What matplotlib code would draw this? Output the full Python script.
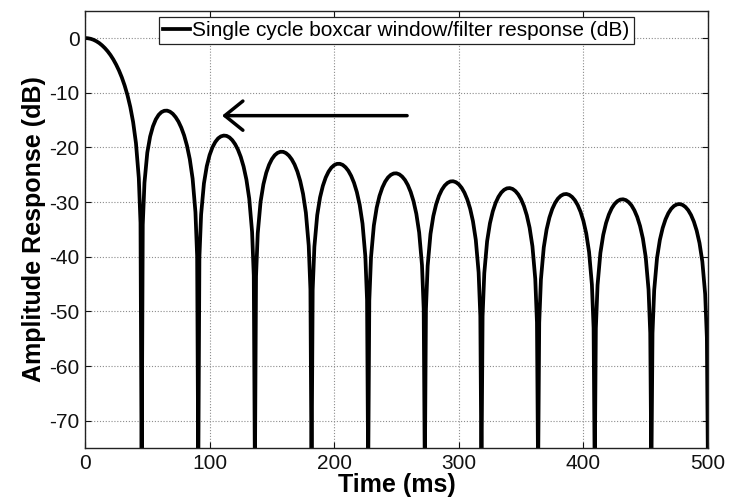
import matplotlib
matplotlib.use("Agg")
import matplotlib.pyplot as plt

# ---------------- data ----------------
null_times_ms = [0.0, 45.45, 90.91, 136.36, 181.82, 227.27, 272.73,
                 318.18, 363.64, 409.09, 454.55, 500.0]

main_lobe_frac = [0.0, 0.05, 0.1, 0.15, 0.2, 0.25, 0.3, 0.35, 0.4, 0.45, 0.5,
                  0.55, 0.6, 0.65, 0.7, 0.75, 0.8, 0.85, 0.9, 0.95, 0.98]
main_lobe_db = [0.0, -0.04, -0.14, -0.32, -0.58, -0.91, -1.33, -1.83, -2.42, -3.11, -3.92,
                -4.86, -5.94, -7.20, -8.69, -10.45, -12.62, -15.39, -19.23, -25.6, -33.81]

side_lobe_frac = [0.02, 0.05, 0.1, 0.15, 0.2, 0.25, 0.3, 0.35, 0.4, 0.45, 0.5,
                  0.55, 0.6, 0.65, 0.7, 0.75, 0.8, 0.85, 0.9, 0.95, 0.98]
lobe1_db = [-34.15, -26.48, -20.97, -18.02, -16.15, -14.89, -14.06, -13.55, -13.31, -13.28, -13.47,
            -13.86, -14.47, -15.29, -16.39, -17.81, -19.67, -22.15, -25.72, -31.85, -39.92]
lobe2_db = [-40.09, -32.29, -26.59, -23.45, -21.41, -20.00, -19.02, -18.36, -17.99, -17.84, -17.90,
            -18.18, -18.68, -19.41, -20.41, -21.74, -23.51, -25.90, -29.39, -35.45, -43.47]
lobe3_db = [-43.58, -35.74, -29.97, -26.77, -24.66, -23.19, -22.15, -21.44, -21.01, -20.81, -20.82,
            -21.06, -21.51, -22.19, -23.14, -24.43, -26.16, -28.51, -31.96, -37.98, -45.98]
lobe4_db = [-46.07, -38.20, -32.40, -29.16, -27.03, -25.52, -24.45, -23.71, -23.25, -23.02, -23.01,
            -23.21, -23.64, -24.29, -25.23, -26.49, -28.19, -30.52, -33.95, -39.95, -47.93]
lobe5_db = [-48.00, -40.12, -34.30, -31.04, -28.88, -27.36, -26.27, -25.51, -25.03, -24.78, -24.75,
            -24.94, -25.35, -25.98, -26.90, -28.15, -29.83, -32.15, -35.56, -41.54, -49.52]
lobe6_db = [-49.58, -41.69, -35.85, -32.58, -30.41, -28.87, -27.77, -27.00, -26.51, -26.24, -26.20,
            -26.38, -26.77, -27.40, -28.30, -29.54, -31.21, -33.52, -36.92, -42.89, -50.86]
lobe7_db = [-50.91, -43.02, -37.17, -33.89, -31.71, -30.16, -29.05, -28.27, -27.77, -27.50, -27.45,
            -27.61, -28.00, -28.62, -29.51, -30.74, -32.41, -34.70, -38.10, -44.06, -52.02]
lobe8_db = [-52.07, -44.17, -38.31, -35.03, -32.84, -31.28, -30.17, -29.38, -28.87, -28.59, -28.53,
            -28.69, -29.07, -29.68, -30.57, -31.79, -33.45, -35.74, -39.13, -45.09, -53.05]
lobe9_db = [-53.09, -45.19, -39.32, -36.03, -33.84, -32.28, -31.15, -30.36, -29.85, -29.56, -29.50,
            -29.65, -30.03, -30.63, -31.52, -32.73, -34.39, -36.67, -40.06, -46.01, -53.97]
lobe10_db = [-54.00, -46.10, -40.23, -36.93, -34.74, -33.17, -32.04, -31.24, -30.72, -30.44, -30.37,
             -30.52, -30.89, -31.49, -32.37, -33.58, -35.23, -37.51, -40.89, -46.84, -54.80]
null_floor_db = -80.0

x_ticks = [0, 100, 200, 300, 400, 500]
y_ticks = [0, -10, -20, -30, -40, -50, -60, -70]
legend_label = "Single cycle boxcar window/filter response (dB)"
arrow_tip = (110, -14.2)
arrow_tail = (258.5, -14.2)

# ---------------- build the curve ----------------
side_lobes = [lobe1_db, lobe2_db, lobe3_db, lobe4_db, lobe5_db,
              lobe6_db, lobe7_db, lobe8_db, lobe9_db, lobe10_db]

xs, ys = [], []
a, b = null_times_ms[0], null_times_ms[1]
for f, v in zip(main_lobe_frac, main_lobe_db):
    xs.append(a + f * (b - a)); ys.append(v)
xs.append(b); ys.append(null_floor_db)
for i, lobe in enumerate(side_lobes, start=1):
    a, b = null_times_ms[i], null_times_ms[i + 1]
    for f, v in zip(side_lobe_frac, lobe):
        xs.append(a + f * (b - a)); ys.append(v)
    xs.append(b); ys.append(null_floor_db)

# ---------------- plot ----------------
plt.rcParams['font.family'] = ['Liberation Sans', 'DejaVu Sans']
plt.rcParams['axes.unicode_minus'] = False

fig = plt.figure(figsize=(7.36, 4.98), dpi=100)
ax = fig.add_axes([85 / 736, 50 / 498, 623 / 736, 437.3 / 498])

ax.plot(xs, ys, color='black', lw=2.7, solid_joinstyle='round', label=legend_label)

ax.set_xlim(0, 500)
ax.set_ylim(-75, 5)
ax.set_xticks(x_ticks)
ax.set_yticks(y_ticks)
ax.tick_params(direction='in', top=True, right=True, length=4, width=0.8,
               labelsize=15, pad=4, colors='#111111')
ax.grid(True, linestyle=(0, (1, 1.6)), color='#8c8c8c', lw=0.8)
for s in ax.spines.values():
    s.set_linewidth(1.0)
    s.set_color('#222222')

ax.set_xlabel("Time (ms)", fontsize=18, fontweight='bold', labelpad=0)
ax.set_ylabel("Amplitude Response (dB)", fontsize=18, fontweight='bold', labelpad=2)

leg = ax.legend(loc='upper center', bbox_to_anchor=(0.5, 0.986), fontsize=15,
                frameon=True, fancybox=False, framealpha=1, edgecolor='#222222',
                handlelength=1.3, handletextpad=0.1, borderpad=0.2,
                borderaxespad=0.0)
leg.get_frame().set_linewidth(0.9)

ax.annotate('', xy=arrow_tip, xytext=arrow_tail,
            arrowprops=dict(arrowstyle='->,head_length=1.3,head_width=1.05',
                            lw=2.5, color='black', shrinkA=0, shrinkB=0))

fig.savefig('out.png', dpi=100)
